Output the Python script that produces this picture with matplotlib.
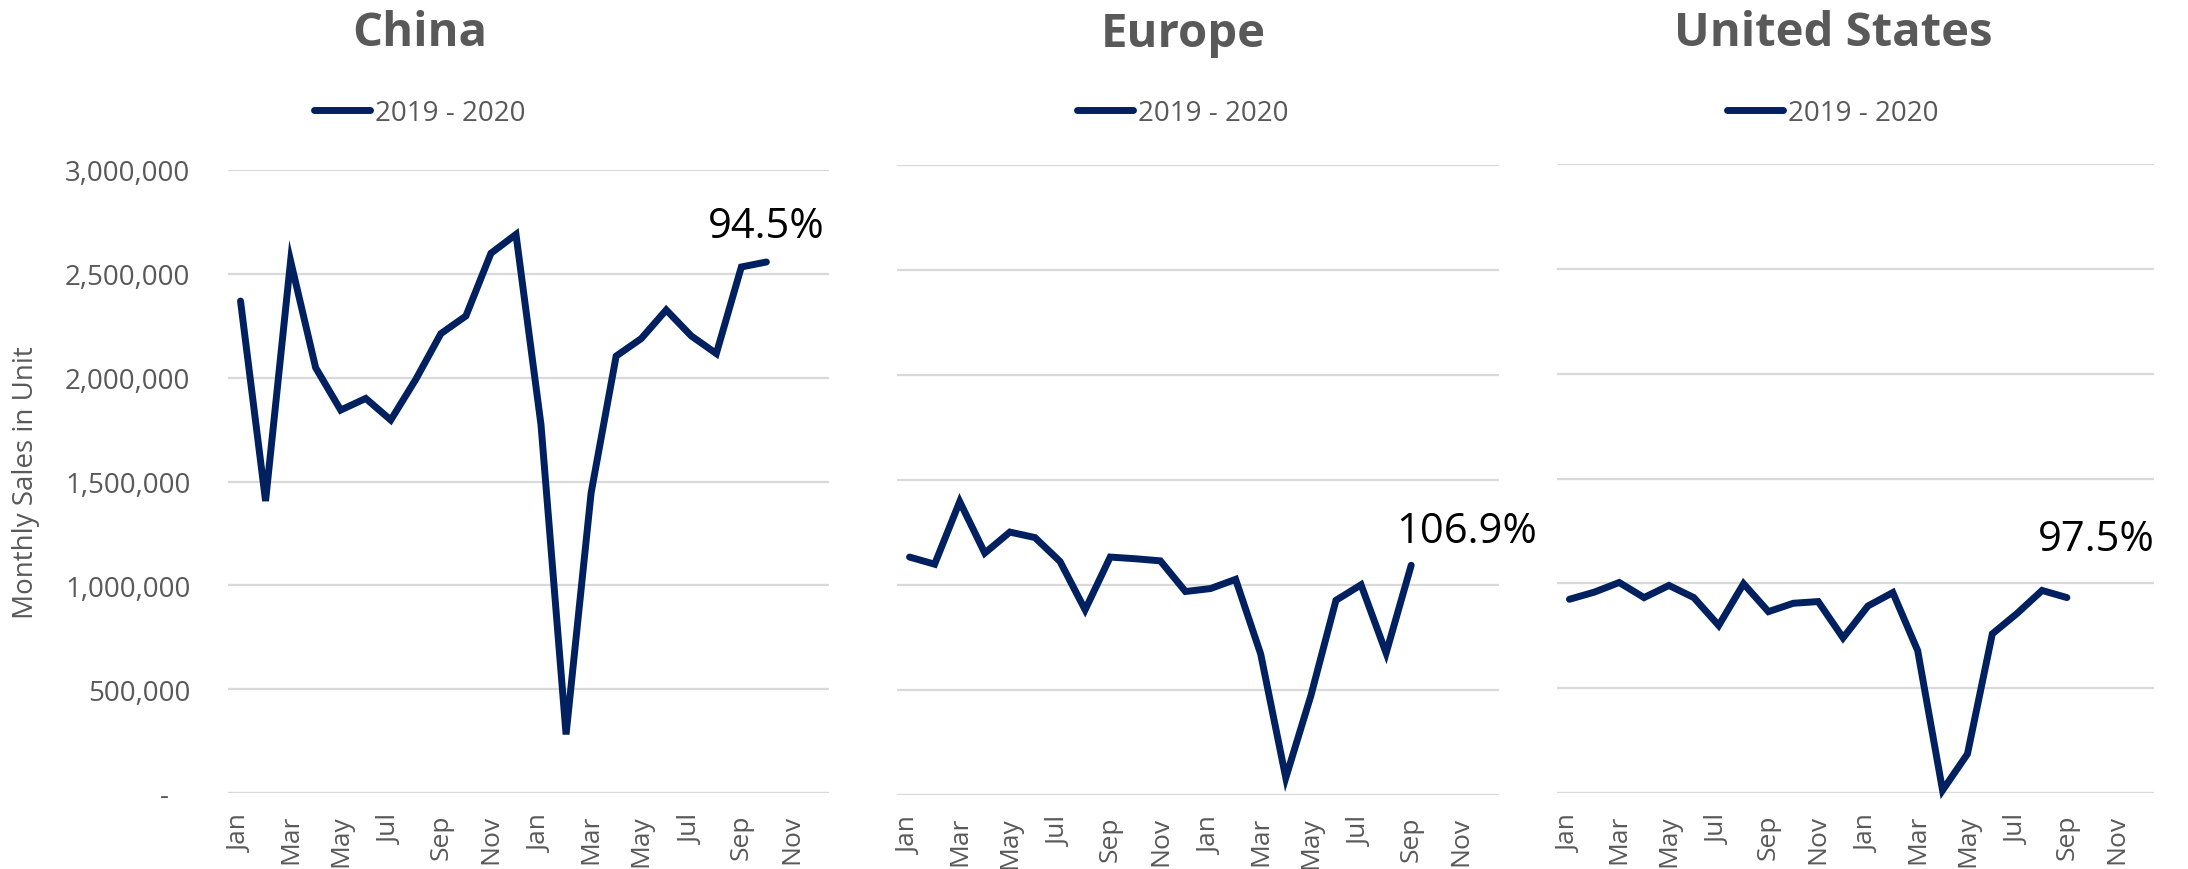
import matplotlib
matplotlib.use("Agg")
import matplotlib.pyplot as plt
from matplotlib.ticker import FuncFormatter

# months Jan 2019 .. Dec 2020 on the x axis, every other one labelled
months = ["Jan", "Feb", "Mar", "Apr", "May", "Jun",
          "Jul", "Aug", "Sep", "Oct", "Nov", "Dec"] * 2
tick_labels = ["Jan", "Mar", "May", "Jul", "Sep", "Nov"] * 2

# monthly sales (units)
china = [2369000, 1406000, 2562000, 2048000, 1844000, 1900000, 1796000, 1992000,
         2212000, 2297000, 2599000, 2690000, 1772000, 282000, 1445000, 2104000,
         2188000, 2326000, 2201000, 2116000, 2533000, 2557000]
europe = [1133000, 1099000, 1397000, 1152000, 1252000, 1226000, 1112000, 882000,
          1133000, 1125000, 1115000, 969000, 983000, 1027000, 671000, 82000,
          473000, 927000, 1001000, 676000, 1094000]
us = [924000, 958000, 1004000, 932000, 990000, 932000, 799000, 998000,
      865000, 905000, 913000, 740000, 892000, 956000, 679000, 13000,
      186000, 759000, 857000, 966000, 932000]

regions = ["China", "Europe", "United States"]
series = [china, europe, us]
end_labels = ["94.5%", "106.9%", "97.5%"]
legend_label = "2019 - 2020"
ylabel = "Monthly Sales in Unit"

NAVY = "#002060"
GRAY = "#595959"
GRID = "#D9D9D9"
FONT = "Open Sans"

W, H = 2188, 870
fig = plt.figure(figsize=(W / 100, H / 100), dpi=100)

# axes boxes in pixels: left, top, right, bottom
boxes = [(228, 171, 829, 794), (897, 166, 1499, 796), (1557, 165, 2154, 794)]
title_x = [420, 1183, 1833]
label_offsets = [((0, 18), "center"), ((-11, 17), "left"), ((-21, 34), "left")]


def fmt(v, pos):
    if v == 0:
        return "-   "
    return "{:,.0f}".format(v)


for i in range(3):
    l, t, r, b = boxes[i]
    ax = fig.add_axes([l / W, 1 - b / H, (r - l) / W, (b - t) / H])
    vals = series[i]
    line, = ax.plot(range(len(vals)), vals, color=NAVY, lw=5,
                    solid_joinstyle="miter", solid_capstyle="round",
                    label=legend_label, clip_on=False)
    ax.set_xlim(-0.5, len(months) - 0.5)
    ax.set_ylim(0, 3000000)
    ax.set_yticks(range(0, 3000001, 500000))
    ax.set_xticks(range(0, len(months), 2))
    ax.set_xticklabels(tick_labels, rotation=90, fontsize=19, color=GRAY, family=FONT)
    ax.tick_params(axis="x", length=0, pad=15)
    ax.tick_params(axis="y", length=0, pad=27)
    ax.grid(axis="y", color=GRID, lw=1.6)
    ax.set_axisbelow(True)
    for s in ax.spines.values():
        s.set_visible(False)
    if i == 0:
        ax.yaxis.set_major_formatter(FuncFormatter(fmt))
        for lab in ax.get_yticklabels():
            lab.set_fontsize(20)
            lab.set_color(GRAY)
            lab.set_family(FONT)
        ax.set_ylabel(ylabel, fontsize=20, color=GRAY, family=FONT)
        ax.yaxis.set_label_coords((40 - l) / (r - l), 0.5)
    else:
        ax.set_yticklabels([])

    off, ha = label_offsets[i]
    ax.annotate(end_labels[i], xy=(len(vals) - 1, vals[-1]), xytext=off,
                textcoords="offset points", ha=ha, va="baseline",
                fontsize=30, color="black", family=FONT)

    fig.text(title_x[i] / W, 1 - 34 / H, regions[i], ha="center", va="center",
             fontsize=34, fontweight="bold", color=GRAY, family=FONT)
    fig.legend(handles=[line], loc="center", bbox_to_anchor=(title_x[i] / W, 1 - 114 / H),
               frameon=False, handlelength=2.0, handletextpad=0.2,
               prop={"family": FONT, "size": 20}, labelcolor=GRAY)

fig.savefig("out.png", dpi=100)
